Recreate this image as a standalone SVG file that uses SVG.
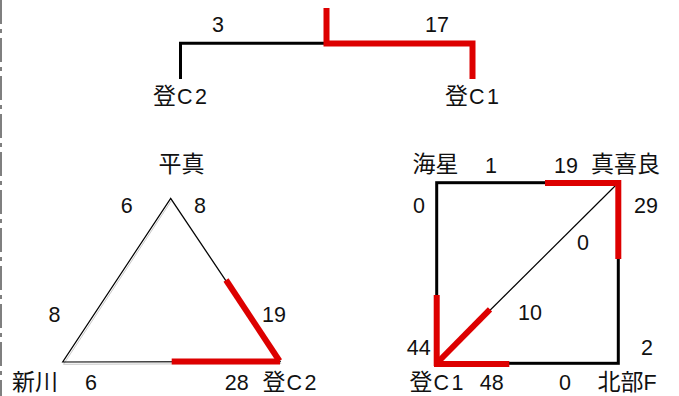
<svg xmlns="http://www.w3.org/2000/svg" width="679" height="396" viewBox="0 0 679 396">
<style>
text{font-family:"Liberation Sans","Noto Sans CJK JP",sans-serif;font-size:21.5px;fill:#111}
.j{font-family:"Noto Sans CJK JP",sans-serif;font-size:23px}
.w{letter-spacing:2.5px}
.m{text-anchor:middle}
.k{stroke:#000;stroke-width:3;fill:none}
.t{stroke:#000;stroke-width:1.2;fill:none}
.sh{stroke:#c8c8c8;stroke-width:1;fill:none}
.r{stroke:#dd0000;stroke-width:6;fill:none;stroke-linecap:butt}
</style>
<rect width="679" height="396" fill="#fff"/>
<line x1="1" y1="0" x2="1" y2="396" stroke="#555" stroke-width="1.5" stroke-dasharray="24 5 4 5"/>
<g id="connectors">
  <!-- top tree -->
  <polyline class="k" points="180.5,79 180.5,43.3 326,43.3"/>
  <polyline class="r" points="326.5,8 326.5,43.5 472.5,43.5 472.5,79"/>
  <!-- triangle -->
  <polygon class="sh" points="171.5,200.5 63.5,364.3 281,363.5"/>
  <polygon class="t" points="170.7,198.3 62.7,362 280,361.5"/>
  <line class="r" x1="226" y1="280" x2="279.5" y2="361"/>
  <line class="r" x1="171.7" y1="361.5" x2="280" y2="361.5"/>
  <!-- square -->
  <rect class="k" x="436.7" y="182.7" width="181.6" height="180.6"/>
  <line class="t" x1="618.3" y1="182.7" x2="436.7" y2="363.3"/>
  <line class="r" x1="545" y1="183" x2="618.3" y2="183"/>
  <line class="r" x1="618.3" y1="180" x2="618.3" y2="259"/>
  <line class="r" x1="436.7" y1="295" x2="436.7" y2="366"/>
  <line class="r" x1="434" y1="364" x2="509.3" y2="364"/>
  <line class="r" x1="438" y1="362" x2="490" y2="309.3"/>
  <!-- edge labels -->
  <text class="m" x="218" y="32">3</text>
  <text class="m" x="437" y="32">17</text>
  <text class="m" x="126.7" y="213">6</text>
  <text class="m" x="200" y="213">8</text>
  <text class="m" x="54.5" y="321.5">8</text>
  <text class="m" x="274" y="321.5">19</text>
  <text class="m" x="91" y="390">6</text>
  <text class="m" x="236.7" y="390">28</text>
  <text class="m" x="491" y="172.5">1</text>
  <text class="m" x="566" y="172.5">19</text>
  <text class="m" x="419" y="213">0</text>
  <text class="m" x="646" y="213">29</text>
  <text class="m" x="583" y="250">0</text>
  <text class="m" x="530" y="320">10</text>
  <text class="m" x="418.7" y="355">44</text>
  <text class="m" x="647" y="355">2</text>
  <text class="m" x="491.7" y="390">48</text>
  <text class="m" x="565" y="390">0</text>
</g>
<g id="tree-c2"><text x="153" y="103.5"><tspan class="j">登</tspan><tspan class="w" dx="1">C2</tspan></text></g>
<g id="tree-c1"><text x="445" y="103.5"><tspan class="j">登</tspan><tspan class="w" dx="1">C1</tspan></text></g>
<g id="hirama"><text class="j" x="158.5" y="171.5">平真</text></g>
<g id="arakawa"><text class="j" x="12" y="390">新川</text></g>
<g id="tri-c2"><text x="262.5" y="390"><tspan class="j">登</tspan><tspan class="w" dx="1">C2</tspan></text></g>
<g id="kaisei"><text class="j" x="412.5" y="171.5">海星</text></g>
<g id="makira"><text class="j" x="591" y="171.5">真喜良</text></g>
<g id="sq-c1"><text x="409.5" y="390"><tspan class="j">登</tspan><tspan class="w" dx="1">C1</tspan></text></g>
<g id="hokubu"><text x="597.5" y="390"><tspan class="j">北部</tspan>F</text></g>
</svg>
